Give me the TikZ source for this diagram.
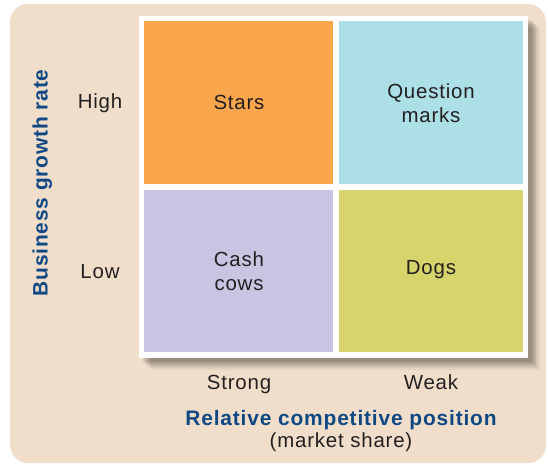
\documentclass[tikz,border=0pt]{standalone}
\usepackage{fontspec}
\setmainfont{Liberation Sans}
\definecolor{bgbeige}{RGB}{240,222,203}
\definecolor{cstar}{RGB}{250,166,76}
\definecolor{cquest}{RGB}{173,223,230}
\definecolor{ccash}{RGB}{199,197,226}
\definecolor{cdog}{RGB}{214,212,106}
\definecolor{ctext}{RGB}{35,31,32}
\definecolor{ctitle}{RGB}{16,72,132}
\newcommand{\lsp}{\addfontfeature{LetterSpace=4}}
\begin{document}
\begin{tikzpicture}[x=1bp,y=-1bp,
  celltext/.style={text=ctext,font=\fontsize{20.5}{24.5}\selectfont\lsp,align=center},
  axlabel/.style={text=ctext,font=\fontsize{20.5}{24.5}\selectfont\lsp,anchor=base},
  titletext/.style={text=ctitle,font=\bfseries\fontsize{21}{25}\selectfont\lsp,anchor=base}]
\useasboundingbox (0,0) rectangle (548,465);
% background
\fill[bgbeige,rounded corners=18bp] (10,4) rectangle (546,463);
% shadow
\foreach \d/\o in {12/0.05,10/0.07,8/0.09,6/0.1,4/0.1}{
  \fill[black,opacity=\o] (139+\d,16+\d) rectangle (528+\d,358+\d);
}
% white frame
\fill[white] (139,16) rectangle (528,358);
% cells
\fill[cstar] (144,21) rectangle (333,184);
\fill[cquest] (339,21) rectangle (523,184);
\fill[ccash] (144,190) rectangle (333,352);
\fill[cdog] (339,190) rectangle (523,352);
\node[celltext] (stars) at (239,102) {Stars};
\node[celltext] (quest) at (431,103) {Question\\marks};
\node[celltext] (cash) at (239,271) {Cash\\cows};
\node[celltext] (dogs) at (431,270) {Dogs};
% axis labels
\node[axlabel] (high) at (100,108.5) {High};
\node[axlabel] (low) at (100,278.5) {Low};
\node[axlabel] (strong) at (239,389.5) {Strong};
\node[axlabel] (weak) at (431,389.5) {Weak};
\node[titletext] (xtitle) at (341,425) {Relative competitive position};
\node[axlabel] (xsub) at (341,447) {(market share)};
\node[titletext,rotate=90] (ytitle) at (47.5,183) {Business growth rate};
\end{tikzpicture}
\end{document}
